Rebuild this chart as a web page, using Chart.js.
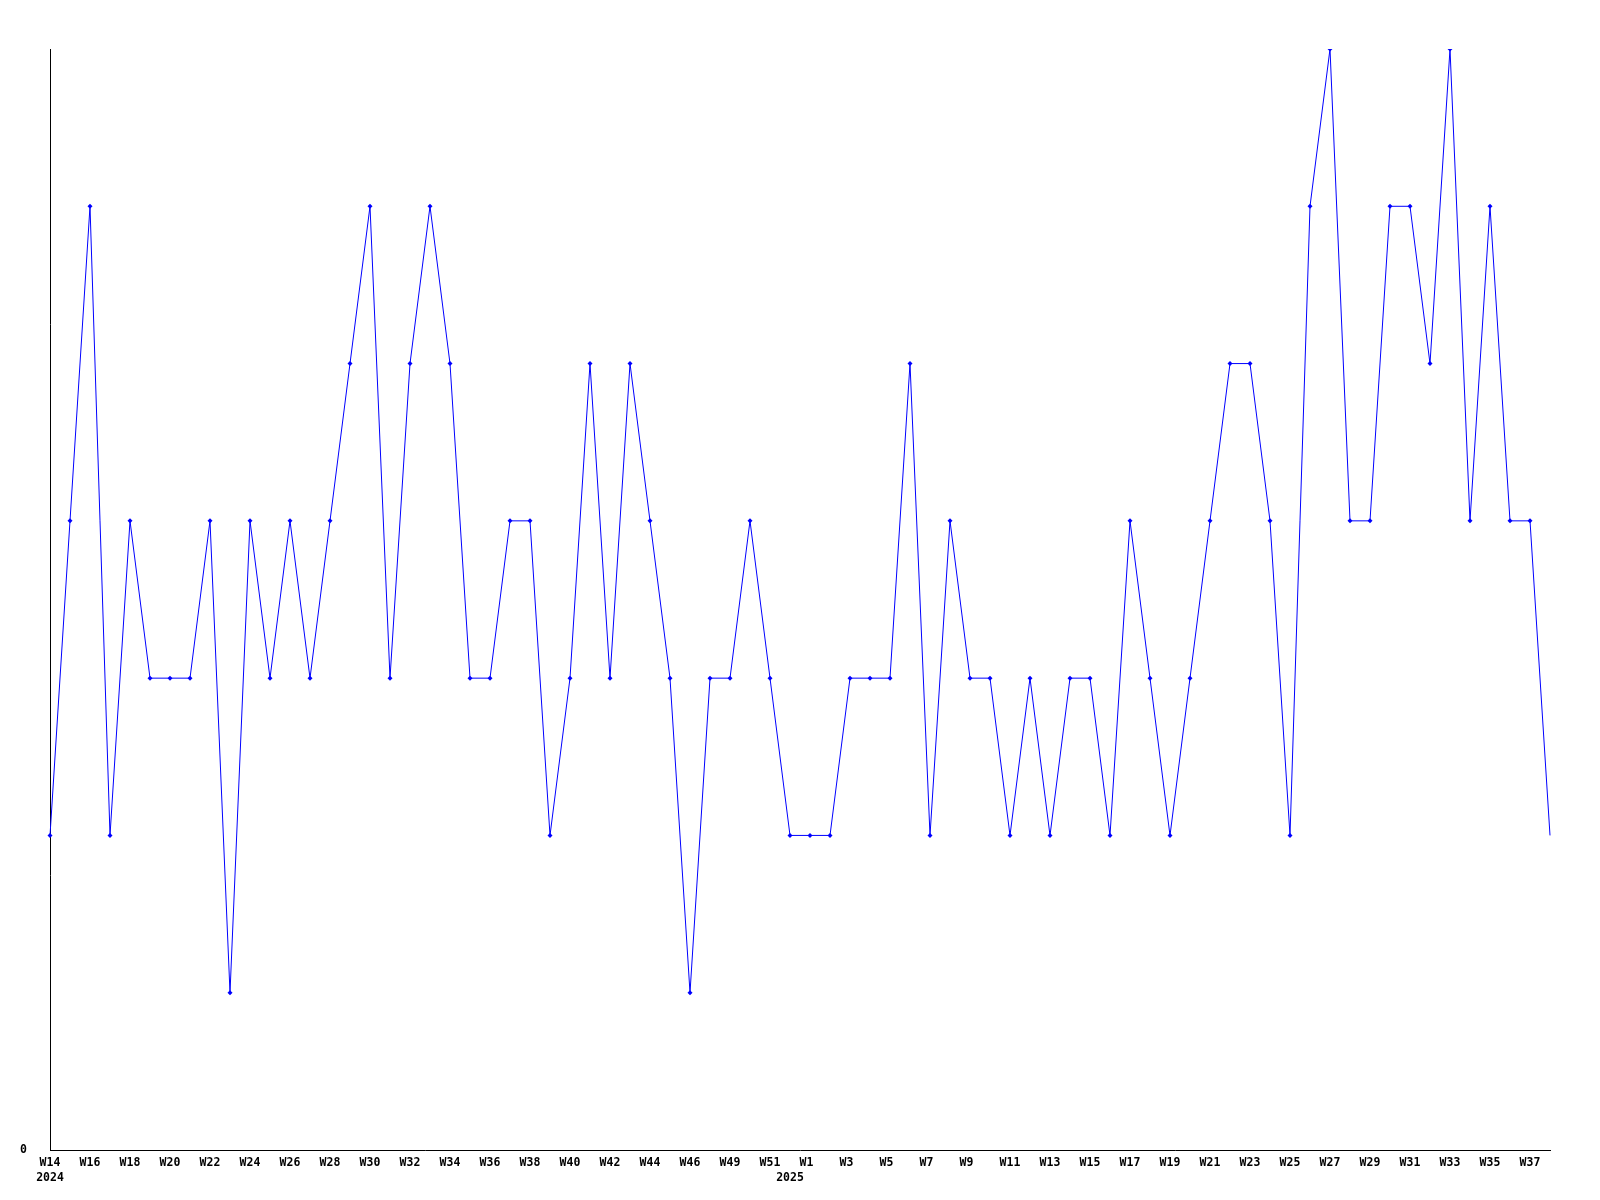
<!DOCTYPE html>
<html>
<head>
<meta charset="utf-8">
<script src="https://cdn.jsdelivr.net/npm/chart.js@4/dist/chart.umd.min.js"></script>
<style>
  html, body { margin: 0; padding: 0; background: #fff; }
  canvas { display: block; }
</style>
</head>
<body>
<canvas id="chart" width="1600" height="1200"></canvas>
<script>
// weeks (2024 W48 missing in the series)
const semanas = [
  'W14','W15','W16','W17','W18','W19','W20','W21','W22','W23','W24','W25','W26','W27','W28','W29',
  'W30','W31','W32','W33','W34','W35','W36','W37','W38','W39','W40','W41','W42','W43','W44','W45',
  'W46','W47','W49','W50','W51','W52',
  'W1','W2','W3','W4','W5','W6','W7','W8','W9','W10','W11','W12','W13','W14','W15','W16',
  'W17','W18','W19','W20','W21','W22','W23','W24','W25','W26','W27','W28','W29','W30','W31','W32',
  'W33','W34','W35','W36','W37','W38'
];
// year label shown under these category indexes
const anos = { 0: '2024', 37: '2025' };
const valores = [
  2, 4, 6, 2, 4, 3, 3, 3, 4, 1, 4, 3, 4, 3, 4, 5,
  6, 3, 5, 6, 5, 3, 3, 4, 4, 2, 3, 5, 3, 5, 4, 3,
  1, 3, 3, 4, 3, 2,
  2, 2, 3, 3, 3, 5, 2, 4, 3, 3, 2, 3, 2, 3, 3, 2,
  4, 3, 2, 3, 4, 5, 5, 4, 2, 6, 7, 4, 4, 6, 6, 5,
  7, 4, 6, 4, 4, 2
];
const yMax = 7;

const fonte = { family: "'DejaVu Sans Mono', monospace", size: 11.5, weight: 'bold', lineHeight: '15px' };

const ctx = document.getElementById('chart').getContext('2d');
new Chart(ctx, {
  type: 'line',
  data: {
    labels: semanas,
    datasets: [{
      data: valores,
      borderColor: '#0000ff',
      backgroundColor: '#0000ff',
      borderWidth: 1,
      tension: 0,
      pointStyle: 'rectRot',
      pointRadius: c => c.dataIndex === valores.length - 1 ? 0 : 2.5,
      pointBorderWidth: 0,
      pointBackgroundColor: '#0000ff'
    }]
  },
  options: {
    responsive: false,
    animation: false,
    layout: { padding: { top: 49, right: 50, left: 0, bottom: 0 } },
    plugins: { legend: { display: false }, tooltip: { enabled: false } },
    scales: {
      x: {
        offset: false,
        grid: { display: false, drawTicks: false },
        border: { display: true, color: '#000', width: 1 },
        ticks: {
          autoSkip: false,
          maxRotation: 0,
          minRotation: 0,
          padding: 6,
          color: '#000',
          font: fonte,
          callback: function (v, i) {
            const ano = anos[i];
            if (i % 2 !== 0) return ano ? ['', ano] : null;
            const lbl = this.getLabelForValue(v).padEnd(3);
            return ano ? [lbl, ano] : lbl;
          }
        },
        afterFit: s => { s.height = 50; }
      },
      y: {
        min: 0,
        max: yMax,
        grid: { display: false, drawTicks: false },
        border: { display: true, color: '#000', width: 1 },
        ticks: {
          stepSize: 1,
          padding: 23,
          color: '#000',
          font: fonte,
          callback: v => v === 0 ? '0' : null
        },
        afterFit: s => { s.width = 50; }
      }
    }
  }
});
</script>
</body>
</html>
